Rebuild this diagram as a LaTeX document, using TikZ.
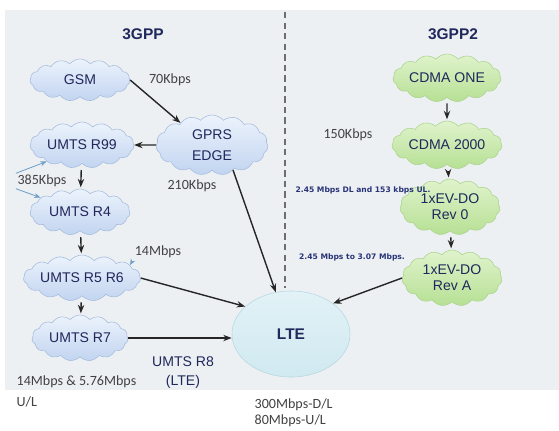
\documentclass[tikz,border=0pt]{standalone}
\usepackage{fontspec}
\setmainfont{Liberation Sans}
\newfontfamily\labelfont{Carlito}
\newfontfamily\ratefont{DejaVu Sans}
\usetikzlibrary{shapes.symbols, shapes.geometric, arrows.meta, positioning}

\definecolor{bgcol}{RGB}{237,240,243}
\definecolor{navy}{RGB}{32,40,92}
\definecolor{cloudtop}{RGB}{236,243,252}
\definecolor{cloudbot}{RGB}{194,212,240}
\definecolor{cloudline}{RGB}{165,188,222}
\definecolor{greentop}{RGB}{224,243,204}
\definecolor{greenbot}{RGB}{182,224,148}
\definecolor{greenline}{RGB}{172,212,142}
\definecolor{ltetop}{RGB}{226,242,247}
\definecolor{ltebot}{RGB}{208,233,240}
\definecolor{lteline}{RGB}{182,216,226}
\definecolor{pointer}{RGB}{112,160,202}
\definecolor{labelgray}{RGB}{66,66,66}
\definecolor{ratecol}{RGB}{40,52,120}
\definecolor{divider}{RGB}{110,110,110}

\begin{document}
\begin{tikzpicture}[
    x=0.025cm, y=-0.025cm,
    cloudbox/.style={
        cloud,
        cloud puffs=15,
        cloud puff arc=100,
        cloud ignores aspect,
        draw=cloudline,
        top color=cloudtop,
        bottom color=cloudbot,
        text=navy,
        align=center,
        inner sep=0pt,
        minimum width=2.5cm,
        minimum height=1.15cm,
        font=\fontsize{10}{11.5}\selectfont
    },
    greenbox/.style={
        cloudbox,
        draw=greenline,
        top color=greentop,
        bottom color=greenbot
    },
    ltebox/.style={
        ellipse,
        draw=lteline,
        top color=ltetop,
        bottom color=ltebot,
        text=navy,
        inner sep=0pt,
        minimum width=2.95cm,
        minimum height=2.15cm,
        font=\bfseries\fontsize{11}{13}\selectfont
    },
    title/.style={
        text=navy,
        font=\bfseries\fontsize{11}{13}\selectfont
    },
    rate/.style={
        text=labelgray,
        inner sep=1pt,
        font=\labelfont\fontsize{10}{12}\selectfont
    },
    smallrate/.style={
        text=ratecol,
        inner sep=1pt,
        font=\ratefont\bfseries\fontsize{5.4}{6}\selectfont
    },
    arrow/.style={
        -{Stealth[length=6pt, width=4.5pt]},
        line width=1pt,
        draw=black!85
    },
    downarrow/.style={
        arrow,
        shorten <=4pt,
        shorten >=1pt
    },
    pointarrow/.style={
        -{Stealth[length=4.5pt, width=3.5pt]},
        line width=0.6pt,
        draw=pointer
    }
]

    % --- PAGE AND BACKDROP ---
    \useasboundingbox (0,0) rectangle (559,430);
    \fill[white] (0,0) rectangle (559,430);
    \fill[bgcol] (5,10) rectangle (559,390);

    % --- DIVIDER BETWEEN THE TWO FAMILIES ---
    \coordinate (div_top) at (285,12);
    \coordinate (div_bot) at (285,288);
    \draw[divider, line width=1.4pt, dash pattern=on 4.5pt off 3pt] (div_top) -- (div_bot);

    \node[title] (t3gpp) at (143,34) {3GPP};
    \node[title] (t3gpp2) at (453,34) {3GPP2};

    % --- 3GPP TRACK (LEFT) ---
    \node[cloudbox, minimum height=1.05cm] (gsm) at (80,80) {GSM};
    \node[cloudbox, minimum width=2.8cm, minimum height=1.5cm] (gprs) at (212,145) {GPRS\\[3pt]EDGE};
    \node[cloudbox, minimum width=2.6cm] (r99) at (82,145) {UMTS R99};
    \node[cloudbox] (r4) at (80,212) {UMTS R4};
    \node[cloudbox] (r56) at (82,278) {UMTS R5 R6};
    \node[cloudbox, minimum width=2.4cm] (r7) at (80,338) {UMTS R7};

    \node[rate] (k70) at (170,80) {70Kbps};
    \node[rate] (k210) at (192,186) {210Kbps};
    \node[rate] (k385) at (42,181) {385Kbps};
    \node[rate] (m14) at (158,252) {14Mbps};
    \node[rate, align=left, anchor=north west, font=\labelfont\fontsize{10}{15}\selectfont] (m14ul) at (15,374) {14Mbps \& 5.76Mbps\\U/L};
    \node[text=navy, align=center, font=\fontsize{10}{13.5}\selectfont] (r8) at (183,373) {UMTS R8\\(LTE)};

    \draw[arrow] (gsm.east) -- (gprs.145);
    \draw[arrow] (gprs.west) -- (r99.east);
    \draw[downarrow] (r99) -- (r4);
    \draw[downarrow] (r4) -- (r56);
    \draw[downarrow] (r56) -- (r7);

    \draw[pointarrow] (k385.north west) -- (r99.205);
    \draw[pointarrow] (k385.south west) -- (r4.160);
    \draw[pointarrow, shorten <=2pt] (m14.south west) -- (r56.15);

    % --- LTE ---
    \node[ltebox] (lte) at (291,334) {LTE};
    \node[rate, align=left, anchor=north west, font=\labelfont\fontsize{10}{11.3}\selectfont] (lterate) at (253,397) {300Mbps-D/L\\80Mbps-U/L};

    \draw[arrow] (gprs.-50) -- (lte.110);
    \draw[arrow] (r56.east) -- (lte.149);
    \draw[arrow] (r7.east) -- (r7.east -| lte.west);

    % --- 3GPP2 TRACK (RIGHT) ---
    \node[greenbox, minimum width=2.7cm, minimum height=1.2cm] (cdma1) at (447,78) {CDMA ONE};
    \node[greenbox, minimum width=2.75cm, minimum height=1.2cm] (cdma2) at (447,145) {CDMA 2000};
    \node[greenbox, minimum height=1.4cm] (rev0) at (450,207) {1xEV-DO\\Rev 0};
    \node[greenbox, minimum height=1.4cm] (reva) at (452,278) {1xEV-DO\\Rev A};

    \node[rate] (k150) at (348,135) {150Kbps};
    \node[smallrate] (dl153) at (363,190) {2.45 Mbps DL and 153 kbps UL.};
    \node[smallrate] (to307) at (352,257) {2.45 Mbps to 3.07 Mbps.};

    \draw[downarrow] (cdma1) -- (cdma2);
    \draw[downarrow] (cdma2) -- (rev0);
    \draw[downarrow] (rev0) -- (reva);
    \draw[arrow] (reva.west) -- (lte.36);

\end{tikzpicture}
\end{document}
